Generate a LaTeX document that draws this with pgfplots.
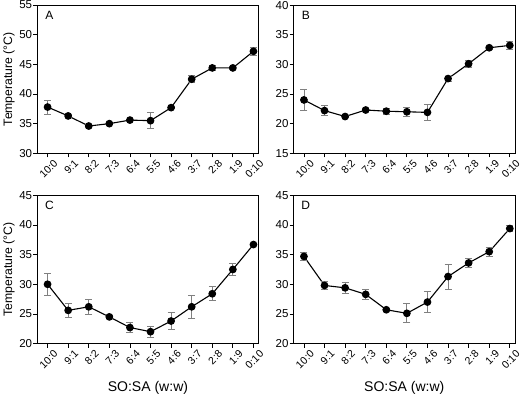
\documentclass[border=0pt]{standalone}
\usepackage{fontspec}
\setmainfont{Liberation Sans}
\usepackage{pgfplots}
\pgfplotsset{compat=1.18}
\usepgfplotslibrary{groupplots}

\tikzset{letter/.style={font=\fontsize{12}{14}\selectfont, anchor=center}}

\pgfplotsset{
  panel/.style={
    scale only axis, width=221pt, height=148pt,
    xmin=-0.5, xmax=10.25,
    xtick={0,...,10},
    xticklabels={10:0,9:1,8:2,7:3,6:4,5:5,4:6,3:7,2:8,1:9,0:10},
    x tick label style={rotate=45, anchor=north east, font=\fontsize{10.5}{12}\selectfont,
      inner sep=0.3pt, text height=0.72em, text depth=0pt, xshift=3pt, yshift=-5pt},
    y tick label style={font=\fontsize{11.5}{14}\selectfont, inner sep=1pt},
    ylabel style={font=\fontsize{12.2}{15}\selectfont},
    xlabel style={font=\fontsize{14}{16}\selectfont, yshift=-8pt},
    tick align=outside, xtick pos=bottom, ytick pos=left,
    major tick length=4pt,
    axis line style={line width=0.9pt},
    every tick/.style={black, line width=0.8pt},
    /pgf/number format/assume math mode=true,
    clip=false,
  },
  series/.style={black, line width=1.1pt, mark=*, mark size=3.3pt,
    mark options={fill=black, solid},
    error bars/.cd, y dir=both, y explicit,
    error bar style={gray, line width=0.8pt},
    error mark options={rotate=90, gray, mark size=3.5pt, line width=0.8pt}},
}

\begin{document}
\begin{tikzpicture}
\begin{groupplot}[group style={group size=2 by 2, horizontal sep=35pt, vertical sep=42pt}, panel]

% A
\nextgroupplot[ymin=30, ymax=55, ytick={30,35,...,55}, ylabel={Temperature (°C)}]
\addplot[series] coordinates {
  (0,37.8) +- (0,1.2)
  (1,36.3) +- (0,0.3)
  (2,34.6) +- (0,0.3)
  (3,35.0) +- (0,0.2)
  (4,35.6) +- (0,0.2)
  (5,35.5) +- (0,1.35)
  (6,37.7) +- (0,0.2)
  (7,42.5) +- (0,0.6)
  (8,44.4) +- (0,0.5)
  (9,44.4) +- (0,0.2)
  (10,47.2) +- (0,0.7)
};
\node[letter] at (rel axis cs:0.055,0.93) {A};

% B
\nextgroupplot[ymin=15, ymax=40, ytick={15,20,...,40}]
\addplot[series] coordinates {
  (0,24.0) +- (0,1.8)
  (1,22.2) +- (0,0.8)
  (2,21.2) +- (0,0.2)
  (3,22.3) +- (0,0.3)
  (4,22.1) +- (0,0.5)
  (5,22.0) +- (0,0.8)
  (6,21.9) +- (0,1.3)
  (7,27.6) +- (0,0.4)
  (8,30.1) +- (0,0.6)
  (9,32.8) +- (0,0.2)
  (10,33.2) +- (0,0.6)
};
\node[letter] at (rel axis cs:0.055,0.93) {B};

% C
\nextgroupplot[ymin=20, ymax=45, ytick={20,25,...,45}, ylabel={Temperature (°C)}, xlabel={SO:SA (w:w)}]
\addplot[series] coordinates {
  (0,30.0) +- (0,1.9)
  (1,25.6) +- (0,1.2)
  (2,26.2) +- (0,1.2)
  (3,24.5) +- (0,0.3)
  (4,22.7) +- (0,0.9)
  (5,22.0) +- (0,0.9)
  (6,23.8) +- (0,1.4)
  (7,26.2) +- (0,2.0)
  (8,28.4) +- (0,1.2)
  (9,32.5) +- (0,1.0)
  (10,36.7) +- (0,0.2)
};
\node[letter] at (rel axis cs:0.055,0.93) {C};

% D
\nextgroupplot[ymin=20, ymax=45, ytick={20,25,...,45}, xlabel={SO:SA (w:w)}]
\addplot[series] coordinates {
  (0,34.7) +- (0,0.6)
  (1,29.8) +- (0,0.6)
  (2,29.4) +- (0,0.9)
  (3,28.3) +- (0,0.9)
  (4,25.7) +- (0,0.3)
  (5,25.1) +- (0,1.6)
  (6,27.0) +- (0,1.8)
  (7,31.3) +- (0,2.1)
  (8,33.6) +- (0,0.8)
  (9,35.5) +- (0,0.8)
  (10,39.4) +- (0,0.5)
};
\node[letter] at (rel axis cs:0.055,0.93) {D};

\end{groupplot}
\end{tikzpicture}
\end{document}
